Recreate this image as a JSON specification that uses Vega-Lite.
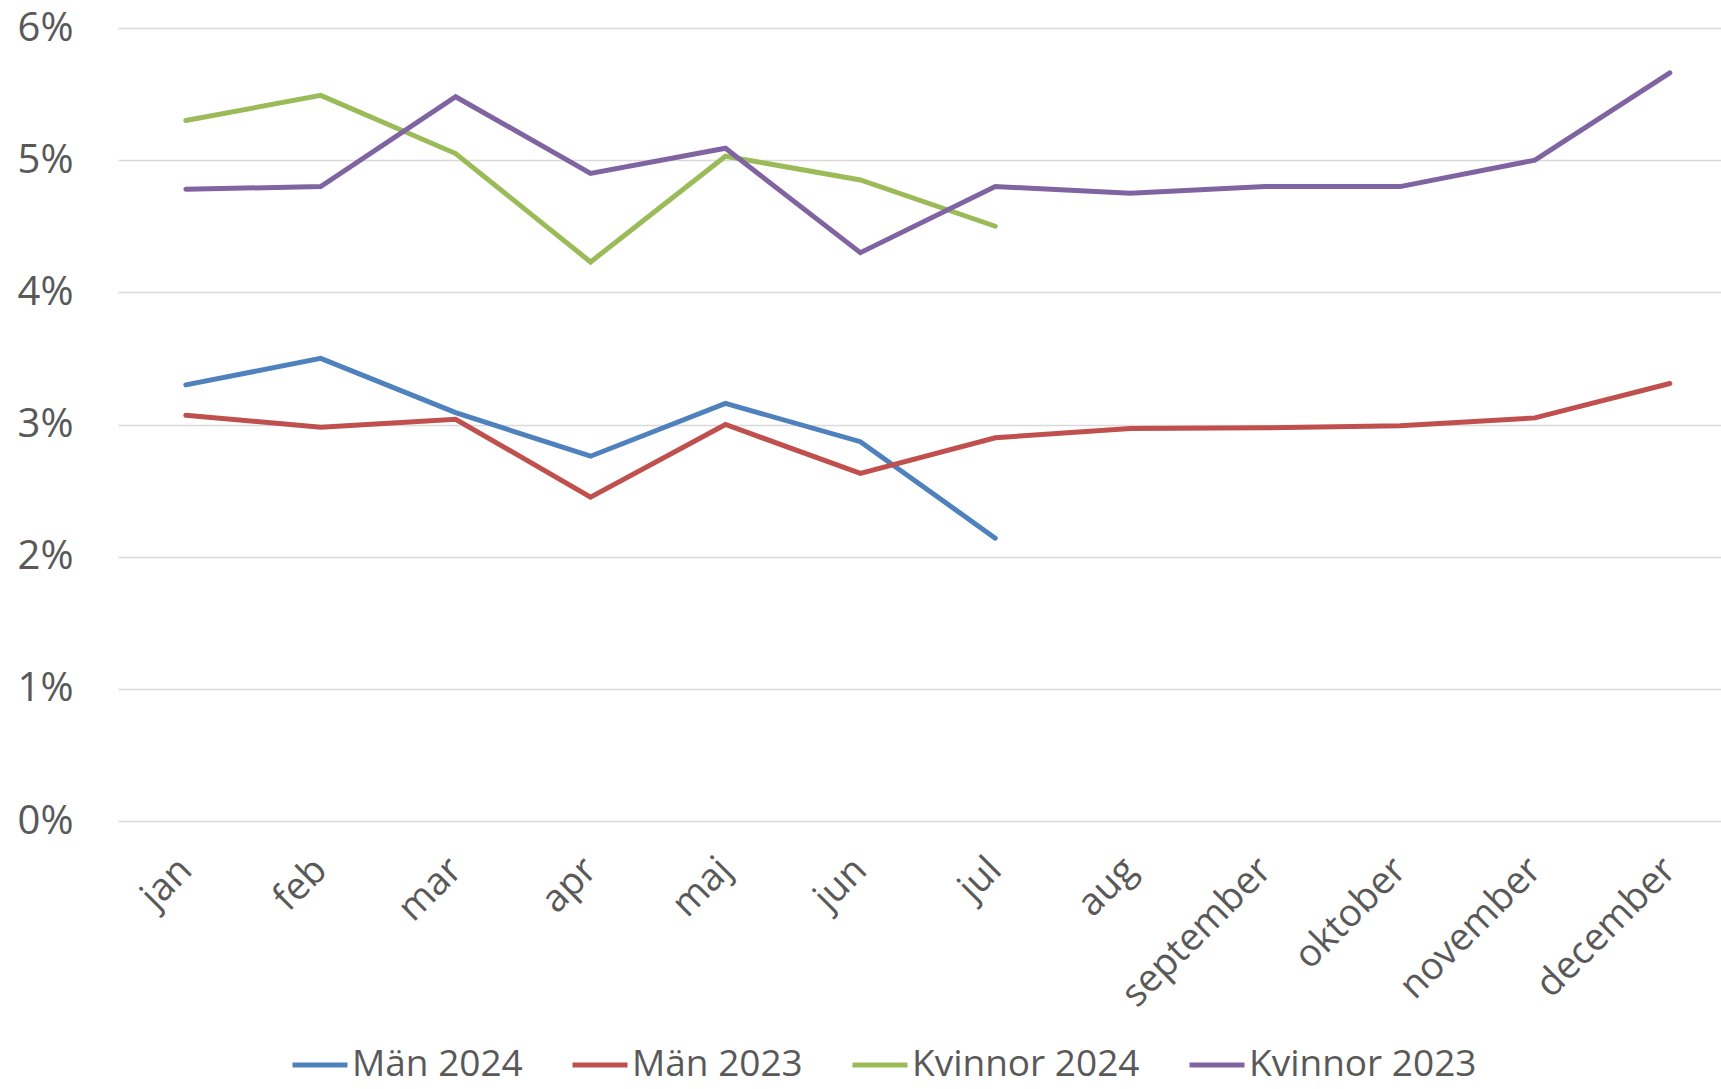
{
  "$schema": "https://vega.github.io/schema/vega-lite/v6.json",
  "autosize": "none",
  "width": 1603,
  "height": 793,
  "padding": {"left": 118, "top": 28, "right": 0, "bottom": 268},
  "background": "white",
  "config": {
    "view": {"stroke": null},
    "font": "Open Sans"
  },
  "data": {
    "values": [
      {"month": "jan", "series": "Män 2024", "value": 0.0330},
      {"month": "feb", "series": "Män 2024", "value": 0.0350},
      {"month": "mar", "series": "Män 2024", "value": 0.0309},
      {"month": "apr", "series": "Män 2024", "value": 0.0276},
      {"month": "maj", "series": "Män 2024", "value": 0.0316},
      {"month": "jun", "series": "Män 2024", "value": 0.0287},
      {"month": "jul", "series": "Män 2024", "value": 0.0214},
      {"month": "jan", "series": "Män 2023", "value": 0.0307},
      {"month": "feb", "series": "Män 2023", "value": 0.0298},
      {"month": "mar", "series": "Män 2023", "value": 0.0304},
      {"month": "apr", "series": "Män 2023", "value": 0.0245},
      {"month": "maj", "series": "Män 2023", "value": 0.0300},
      {"month": "jun", "series": "Män 2023", "value": 0.0263},
      {"month": "jul", "series": "Män 2023", "value": 0.0290},
      {"month": "aug", "series": "Män 2023", "value": 0.0297},
      {"month": "september", "series": "Män 2023", "value": 0.02975},
      {"month": "oktober", "series": "Män 2023", "value": 0.0299},
      {"month": "november", "series": "Män 2023", "value": 0.0305},
      {"month": "december", "series": "Män 2023", "value": 0.0331},
      {"month": "jan", "series": "Kvinnor 2024", "value": 0.0530},
      {"month": "feb", "series": "Kvinnor 2024", "value": 0.0549},
      {"month": "mar", "series": "Kvinnor 2024", "value": 0.0505},
      {"month": "apr", "series": "Kvinnor 2024", "value": 0.0423},
      {"month": "maj", "series": "Kvinnor 2024", "value": 0.0503},
      {"month": "jun", "series": "Kvinnor 2024", "value": 0.0485},
      {"month": "jul", "series": "Kvinnor 2024", "value": 0.0450},
      {"month": "jan", "series": "Kvinnor 2023", "value": 0.0478},
      {"month": "feb", "series": "Kvinnor 2023", "value": 0.0480},
      {"month": "mar", "series": "Kvinnor 2023", "value": 0.0548},
      {"month": "apr", "series": "Kvinnor 2023", "value": 0.0490},
      {"month": "maj", "series": "Kvinnor 2023", "value": 0.0509},
      {"month": "jun", "series": "Kvinnor 2023", "value": 0.0430},
      {"month": "jul", "series": "Kvinnor 2023", "value": 0.0480},
      {"month": "aug", "series": "Kvinnor 2023", "value": 0.0475},
      {"month": "september", "series": "Kvinnor 2023", "value": 0.0480},
      {"month": "oktober", "series": "Kvinnor 2023", "value": 0.0480},
      {"month": "november", "series": "Kvinnor 2023", "value": 0.0500},
      {"month": "december", "series": "Kvinnor 2023", "value": 0.0566}
    ]
  },
  "mark": {"type": "line", "strokeWidth": 5, "strokeCap": "round", "strokeJoin": "miter"},
  "encoding": {
    "x": {
      "field": "month",
      "type": "ordinal",
      "sort": ["jan", "feb", "mar", "apr", "maj", "jun", "jul", "aug", "september", "oktober", "november", "december"],
      "scale": {"type": "point", "padding": 0.441, "align": 0.57},
      "axis": {
        "title": null,
        "domain": false,
        "ticks": false,
        "grid": false,
        "labelAngle": -45,
        "labelAlign": "right",
        "labelBaseline": "middle",
        "labelPadding": 43,
        "labelFontSize": 38,
        "labelColor": "#595959",
        "labelFont": "Open Sans",
        "labelLimit": 400
      }
    },
    "y": {
      "field": "value",
      "type": "quantitative",
      "scale": {"domain": [0, 0.06], "nice": false, "zero": true},
      "axis": {
        "title": null,
        "format": ".0%",
        "values": [0, 0.01, 0.02, 0.03, 0.04, 0.05, 0.06],
        "domain": false,
        "ticks": false,
        "grid": true,
        "gridColor": "#D9D9D9",
        "gridWidth": 1.5,
        "labelPadding": 45,
        "labelFontSize": 40,
        "labelColor": "#595959",
        "labelFont": "Open Sans"
      }
    },
    "color": {
      "field": "series",
      "type": "nominal",
      "sort": ["Män 2024", "Män 2023", "Kvinnor 2024", "Kvinnor 2023"],
      "scale": {
        "domain": ["Män 2024", "Män 2023", "Kvinnor 2024", "Kvinnor 2023"],
        "range": ["#4F81BD", "#C0504D", "#9BBB59", "#8064A2"]
      },
      "legend": {
        "title": null,
        "orient": "none",
        "direction": "horizontal",
        "legendX": 172,
        "legendY": 1007,
        "symbolType": "stroke",
        "symbolSize": 3025,
        "symbolStrokeWidth": 5,
        "labelFontSize": 37,
        "labelColor": "#595959",
        "labelFont": "Open Sans",
        "labelOffset": 2,
        "columnPadding": 39,
        "padding": 0,
        "labelLimit": 400
      }
    }
  }
}
